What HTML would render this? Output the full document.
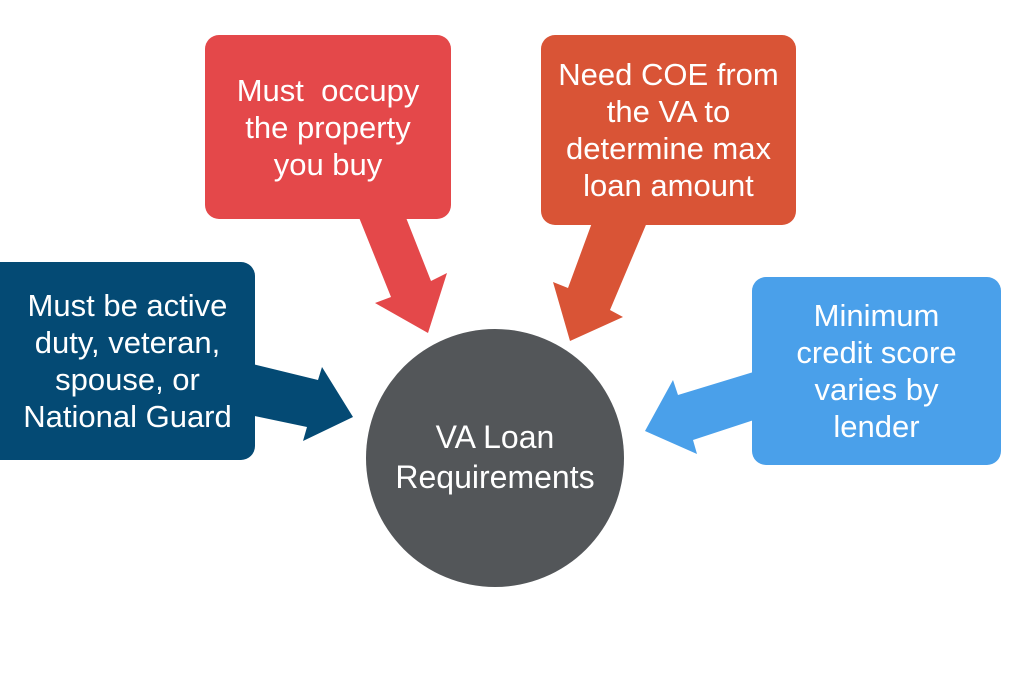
<!DOCTYPE html>
<html><head><style>
body{margin:0;width:1024px;height:683px;background:#fff;overflow:hidden;position:relative;font-family:"Liberation Sans",sans-serif}
.b{position:absolute;border-radius:14px;color:#fff;display:flex;align-items:center;justify-content:center;text-align:center;font-size:31px;line-height:37px}
svg{position:absolute;left:0;top:0}
</style></head><body>
<svg width="1024" height="683">
<polygon points="356,210 403,210 431,281 447,273 428,333 375,303 391,297" fill="#e4484a"/>
<polygon points="593,220 648,220 610,310 623,317 570,341 553,282 568,288" fill="#d95436"/>
<polygon points="240,361 318,380 322,367 353,417 303,441 307,427 240,413" fill="#044a74"/>
<polygon points="760,370 678,395 673,380 645,431 697,454 693,440 760,418" fill="#4aa0ea"/>
<circle cx="495" cy="458" r="129" fill="#535659"/>
</svg>
<div class="b" style="left:205px;top:35px;width:246px;height:184px;background:#e4484a"><div>Must&nbsp; occupy<br>the property<br>you buy</div></div>
<div class="b" style="left:541px;top:35px;width:255px;height:190px;background:#d95436"><div>Need COE from<br>the VA to<br>determine max<br>loan amount</div></div>
<div class="b" style="left:-14px;top:262px;width:269px;height:198px;background:#044a74"><div style="padding-left:14px">Must be active<br>duty, veteran,<br>spouse, or<br>National Guard</div></div>
<div class="b" style="left:752px;top:277px;width:249px;height:188px;background:#4aa0ea"><div>Minimum<br>credit score<br>varies by<br>lender</div></div>
<div class="b" style="left:366px;top:402px;width:258px;height:110px;background:none;line-height:40px;font-size:32px">VA Loan<br>Requirements</div>
</body></html>
